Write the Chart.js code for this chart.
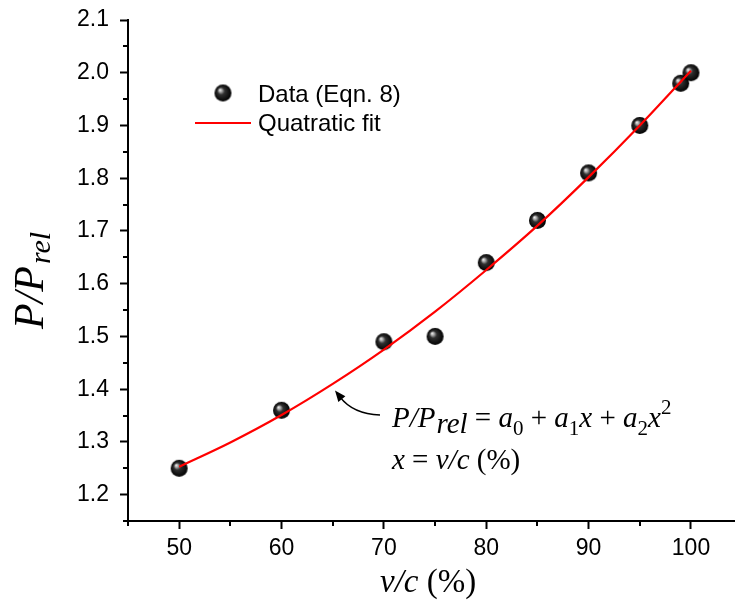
<!DOCTYPE html>
<html><head><meta charset="utf-8">
<script src="https://cdn.jsdelivr.net/npm/chart.js@4"></script>
<style>html,body{margin:0;padding:0;background:#fff}</style>
</head><body>
<canvas id="c" width="735" height="603"></canvas>
<script>
// ---- DATA ----
const dataX = [50, 60, 70, 75, 80, 85, 90, 95, 99, 100];
const dataY = [1.25, 1.36, 1.49, 1.50, 1.64, 1.72, 1.81, 1.90, 1.98, 2.00];
const fitX = [50, 55, 60, 65, 70, 75, 80, 85, 90, 95, 100];
const fitY = [1.253, 1.299, 1.351, 1.410, 1.475, 1.547, 1.626, 1.710, 1.802, 1.900, 2.004];
const xMajorTicks = [50, 60, 70, 80, 90, 100];
const xMinorTicks = [45, 55, 65, 75, 85, 95];
const yMajorTicks = [1.2, 1.3, 1.4, 1.5, 1.6, 1.7, 1.8, 1.9, 2.0, 2.1];
const yMinorTicks = [1.15, 1.25, 1.35, 1.45, 1.55, 1.65, 1.75, 1.85, 1.95, 2.05];
const legendLabels = ['Data (Eqn. 8)', 'Quatratic fit'];
const xTitle = ['v/c', ' (%)'];
const yTitle = ['P/P', 'rel'];

// ---- styling helpers ----
function makeSphere(r) {
  const d = Math.ceil(r * 2) + 2;
  const s = document.createElement('canvas');
  s.width = s.height = d;
  const g = s.getContext('2d');
  const c = d / 2;
  const grad = g.createRadialGradient(c - r * 0.38, c - r * 0.38, 0, c, c, r);
  grad.addColorStop(0, '#f8f8f8');
  grad.addColorStop(0.18, '#b0b0b0');
  grad.addColorStop(0.42, '#303030');
  grad.addColorStop(1, '#000');
  g.fillStyle = grad;
  g.beginPath(); g.arc(c, c, r, 0, Math.PI * 2); g.fill();
  return s;
}
const sphere = makeSphere(8.5);

function drawRuns(ctx, x, y, runs) {
  for (const r of runs) {
    ctx.font = r.f;
    ctx.fillText(r.t, x, y + (r.dy || 0));
    x += ctx.measureText(r.t).width + (r.dx || 0);
  }
  return x;
}

const SERIF = '"Liberation Serif", "Times New Roman", serif';
const SANS = '"Liberation Sans", Arial, sans-serif';

const decor = {
  id: 'decor',
  afterDraw(chart) {
    const ctx = chart.ctx;
    const xs = chart.scales.x, ys = chart.scales.y;
    const area = chart.chartArea;
    ctx.save();
    // minor ticks
    ctx.strokeStyle = '#000'; ctx.lineWidth = 2;
    ctx.beginPath();
    for (const v of xMinorTicks) {
      const p = Math.round(xs.getPixelForValue(v));
      ctx.moveTo(p, area.bottom); ctx.lineTo(p, area.bottom + 5);
    }
    for (const v of yMinorTicks) {
      const p = Math.round(ys.getPixelForValue(v));
      ctx.moveTo(area.left, p); ctx.lineTo(area.left - 5, p);
    }
    ctx.stroke();

    // legend
    ctx.fillStyle = '#000';
    ctx.textBaseline = 'alphabetic'; ctx.textAlign = 'left';
    ctx.drawImage(sphere, 223 - sphere.width / 2, 93 - sphere.height / 2);
    ctx.font = '24px ' + SANS;
    ctx.fillText(legendLabels[0], 258, 102);
    ctx.strokeStyle = '#ff0000'; ctx.lineWidth = 2.2;
    ctx.beginPath(); ctx.moveTo(195, 123); ctx.lineTo(251, 123); ctx.stroke();
    ctx.fillText(legendLabels[1], 258, 131);

    // equation
    const I = 'italic 29px ' + SERIF, U = '29px ' + SERIF, S = '21px ' + SERIF;
    drawRuns(ctx, 392, 427, [
      {t: 'P/P', f: I, dx: 1}, {t: 'rel', f: I, dy: 6},
      {t: ' = ', f: U}, {t: 'a', f: I}, {t: '0', f: S, dy: 8},
      {t: ' + ', f: U}, {t: 'a', f: I}, {t: '1', f: S, dy: 8}, {t: 'x', f: I},
      {t: ' + ', f: U}, {t: 'a', f: I}, {t: '2', f: S, dy: 8}, {t: 'x', f: I}, {t: '2', f: S, dy: -13}
    ]);
    drawRuns(ctx, 392, 469, [
      {t: 'x', f: I}, {t: ' = ', f: U}, {t: 'v/c', f: I}, {t: ' (%)', f: U}
    ]);

    // arrow
    ctx.strokeStyle = '#000'; ctx.lineWidth = 1.3;
    ctx.beginPath(); ctx.moveTo(380, 415);
    ctx.quadraticCurveTo(353, 414, 340, 397); ctx.stroke();
    const tx = 335, ty = 390.5;
    const ang = Math.atan2(ty - 398, tx - 341);
    const L = 11, W = 4.5;
    const bx = tx - Math.cos(ang) * L, by = ty - Math.sin(ang) * L;
    ctx.fillStyle = '#000';
    ctx.beginPath(); ctx.moveTo(tx, ty);
    ctx.lineTo(bx + Math.sin(ang) * W, by - Math.cos(ang) * W);
    ctx.lineTo(bx - Math.sin(ang) * W, by + Math.cos(ang) * W);
    ctx.closePath(); ctx.fill();

    // x title
    drawRuns(ctx, 380, 592, [
      {t: xTitle[0], f: 'italic 33px ' + SERIF}, {t: xTitle[1], f: '33px ' + SERIF}
    ]);
    // y title
    ctx.translate(43, 329);
    ctx.rotate(-Math.PI / 2);
    drawRuns(ctx, 0, 0, [
      {t: yTitle[0], f: 'italic 42px ' + SERIF, dx: 2}, {t: yTitle[1], f: 'italic 30px ' + SERIF, dy: 7}
    ]);
    ctx.restore();
  }
};

new Chart(document.getElementById('c'), {
  type: 'scatter',
  data: {
    datasets: [
      {
        label: legendLabels[0],
        data: dataX.map((x, i) => ({x, y: dataY[i]})),
        pointStyle: sphere,
        pointRadius: 8.5,
        showLine: false,
        order: 2
      },
      {
        label: legendLabels[1],
        data: fitX.map((x, i) => ({x, y: fitY[i]})),
        showLine: true,
        borderColor: '#ff0000',
        borderWidth: 2.2,
        pointRadius: 0,
        cubicInterpolationMode: 'monotone',
        fill: false,
        order: 1
      }
    ]
  },
  options: {
    responsive: false,
    animation: false,
    devicePixelRatio: 1,
    layout: {autoPadding: false, padding: {top: 20, right: 0, bottom: 0, left: 0}},
    plugins: {legend: {display: false}, tooltip: {enabled: false}},
    scales: {
      x: {
        type: 'linear', min: 45, max: 104.3,
        afterFit(s) { s.height = 82; s.paddingLeft = 0; s.paddingRight = 0; },
        afterBuildTicks(s) { s.ticks = xMajorTicks.map(v => ({value: v})); },
        border: {display: true, color: '#000', width: 2},
        grid: {display: true, drawOnChartArea: false, drawTicks: true, tickLength: 8, tickWidth: 2, tickColor: '#000'},
        ticks: {autoSkip: false, maxRotation: 0, color: '#000', padding: 6, font: {family: SANS, size: 23}}
      },
      y: {
        type: 'linear', min: 1.15, max: 2.1,
        afterFit(s) { s.width = 128; s.paddingTop = 0; s.paddingBottom = 0; },
        afterBuildTicks(s) { s.ticks = yMajorTicks.map(v => ({value: v})); },
        border: {display: true, color: '#000', width: 2},
        grid: {display: true, drawOnChartArea: false, drawTicks: true, tickLength: 8, tickWidth: 2, tickColor: '#000'},
        ticks: {autoSkip: false, color: '#000', padding: 11, font: {family: SANS, size: 23},
          callback: v => Number(v).toFixed(1)}
      }
    }
  },
  plugins: [decor]
});
</script>
</body></html>
